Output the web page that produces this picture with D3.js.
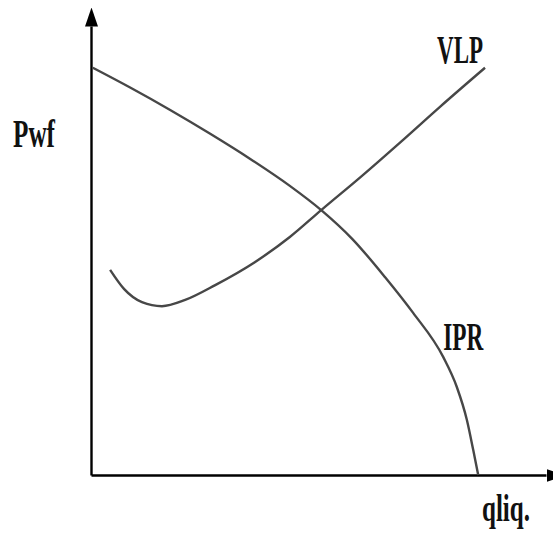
<!DOCTYPE html>
<html>
<head>
<meta charset="utf-8">
<script src="https://cdn.jsdelivr.net/npm/d3@7"></script>
<style>
  body { margin: 0; background: #fff; }
  .lbl { font-family: "Liberation Serif", "DejaVu Serif", serif; font-weight: bold; fill: #111; }
</style>
</head>
<body>
<script>
var width = 553, height = 535;

// IPR curve (inflow performance)
var iprQ = [0.4, 8.6, 17.4, 26.2, 35, 43.7, 50.6, 57.4, 64.6, 70.8, 77.4, 80.4, 82.6, 84, 85.1];
var iprP = [90.7, 86.3, 81.3, 76, 70.4, 64.4, 59, 52.6, 44.1, 36.1, 26.3, 19.6, 12.3, 5.6, 0];

// VLP curve (vertical lift performance)
var vlpQ = [4.2, 7.3, 11.2, 15.6, 20.7, 27.3, 36, 43.7, 50.6, 59.3, 68.1, 76.7, 86.6];
var vlpP = [45.7, 41.4, 38.5, 37.6, 39, 42.3, 47.4, 53, 59, 66.4, 74.2, 82, 90.7];

var svg = d3.select("body")
    .append("svg")
    .attr("width", width)
    .attr("height", height);

var x = d3.scaleLinear().domain([0, 100]).range([91, 546]),
    y = d3.scaleLinear().domain([0, 100]).range([475, 26]);

// arrow heads for the axes
var defs = svg.append("defs");
defs.append("marker")
    .attr("id", "arrow")
    .attr("markerUnits", "userSpaceOnUse")
    .attr("viewBox", "0 -7 19 14")
    .attr("refX", 0)
    .attr("refY", 0)
    .attr("markerWidth", 19)
    .attr("markerHeight", 14)
    .attr("orient", "auto")
  .append("path")
    .attr("d", "M0,-6.5L19,0L0,6.5Z")
    .attr("fill", "#000");

svg.append("g")
    .attr("transform", "translate(0," + y(0) + ")")
    .call(d3.axisBottom(x).ticks(0).tickSizeOuter(0));

svg.append("g")
    .attr("transform", "translate(" + x(0) + ",0)")
    .call(d3.axisLeft(y).ticks(0).tickSizeOuter(0));

svg.selectAll(".domain")
    .attr("stroke", "#000")
    .attr("stroke-width", 2.4)
    .attr("marker-end", "url(#arrow)");

var line = d3.line()
    .curve(d3.curveMonotoneX)
    .x(function(d) { return x(d[0]); })
    .y(function(d) { return y(d[1]); });

var ipr = d3.zip(iprQ, iprP),
    vlp = d3.zip(vlpQ, vlpP);

svg.selectAll(".curve")
    .data([ipr, vlp])
    .enter().append("path")
    .attr("class", "curve")
    .attr("d", line)
    .attr("fill", "none")
    .attr("stroke", "#474747")
    .attr("stroke-width", 2.4);

// labels (squeezed horizontally like the picture)
function label(txt, px, py, w, fs) {
  svg.append("text")
      .attr("class", "lbl")
      .attr("x", px)
      .attr("y", py)
      .attr("font-size", fs || 40)
      .attr("textLength", w)
      .attr("lengthAdjust", "spacingAndGlyphs")
      .text(txt);
}

var vlpEnd = vlp[vlp.length - 1];
label("VLP", x(vlpEnd[0]) - 48, y(vlpEnd[1]) - 5, 46);
label("IPR", x(iprQ[10]), y(iprP[10]) - 7, 40);
label("Pwf", 13, 147, 42);
label("qliq.", 482, 521, 48, 37);
</script>
</body>
</html>
